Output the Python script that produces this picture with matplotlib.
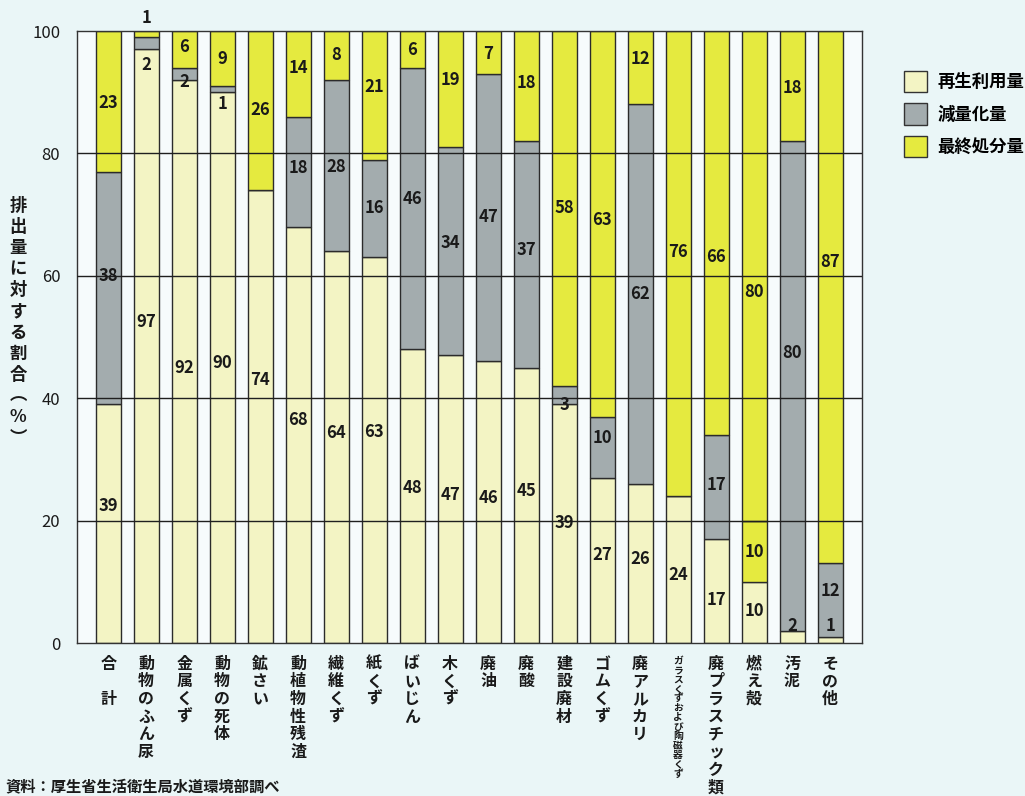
import matplotlib
matplotlib.use("Agg")
import matplotlib.pyplot as plt
from matplotlib.patches import Patch

plt.rcParams['font.family'] = ['Noto Sans CJK JP', 'DejaVu Sans']

# --- data -----------------------------------------------------------------
categories = ["合計", "動物のふん尿", "金属くず", "動物の死体", "鉱さい", "動植物性残渣",
              "繊維くず", "紙くず", "ばいじん", "木くず", "廃油", "廃酸", "建設廃材",
              "ゴムくず", "廃アルカリ", "ガラスくずおよび陶磁器くず", "廃プラスチック類",
              "燃え殻", "汚泥", "その他"]
recycled = [39, 97, 92, 90, 74, 68, 64, 63, 48, 47, 46, 45, 39, 27, 26, 24, 17, 10, 2, 1]
reduced = [38, 2, 2, 1, 0, 18, 28, 16, 46, 34, 47, 37, 3, 10, 62, 0, 17, 10, 80, 12]
final = [23, 1, 6, 9, 26, 14, 8, 21, 6, 19, 7, 18, 58, 63, 12, 76, 66, 80, 18, 87]
series_names = ["再生利用量", "減量化量", "最終処分量"]
yticks = [0, 20, 40, 60, 80, 100]

# label heights (data units) for the printed figures on each segment
recycled_label_y = [22.4, 52.5, 44.9, 45.7, 43.0, 36.4, 34.3, 34.5, 25.3, 24.2, 23.7, 24.8,
                    19.6, 14.4, 13.7, 11.1, 7.0, 5.2, 2.8, 2.8]
reduced_label_y = [60.0, 94.4, 91.7, 88.1, None, 77.6, 77.8, 71.1, 72.5, 65.4, 69.6, 64.2,
                   38.9, 33.5, 57.0, None, 25.8, 14.9, 47.4, 8.5]
final_label_y = [88.2, 102.1, 97.4, 95.4, 87.1, 94.0, 96.1, 90.9, 96.9, 92.0, 96.2, 91.5,
                 71.1, 69.1, 95.4, 63.9, 63.1, 57.4, 90.7, 62.3]

# the reduction share of 燃え殻 is printed in the final-disposal colour
reduced_printed_as_final = {"燃え殻"}

# --- style ----------------------------------------------------------------
c_recycled = "#f3f4c4"
c_reduced = "#a3acae"
c_final = "#e5ea3f"
edge = "#2b2b2b"
fig_bg = "#eaf6f7"
ax_bg = "#f6fbfc"

fig = plt.figure(figsize=(10.25, 7.96), dpi=100, facecolor=fig_bg)
ax = fig.add_axes([77 / 1025, 1 - 643 / 796, (862 - 77) / 1025, (643 - 31) / 796])
ax.set_facecolor(ax_bg)

x = list(range(len(categories)))
width = 0.66
bottom_reduced = recycled
bottom_final = [r + d for r, d in zip(recycled, reduced)]
reduced_colors = [c_final if c in reduced_printed_as_final else c_reduced for c in categories]

ax.bar(x, recycled, width=width, color=c_recycled, edgecolor=edge, linewidth=1.0, zorder=2)
ax.bar(x, reduced, width=width, bottom=bottom_reduced, color=reduced_colors,
       edgecolor=edge, linewidth=1.0, zorder=2)
ax.bar(x, final, width=width, bottom=bottom_final, color=c_final, edgecolor=edge,
       linewidth=1.0, zorder=2)

for yv in yticks[1:-1]:
    ax.axhline(yv, color="#1f1f1f", linewidth=1.0, zorder=3)

label_kw = dict(ha="center", va="center", fontsize=12, fontweight="bold",
                color="#1a1a1a", zorder=4, clip_on=False)
for i in x:
    for vals, ys in ((recycled, recycled_label_y), (reduced, reduced_label_y),
                     (final, final_label_y)):
        if vals[i] > 0 and ys[i] is not None:
            ax.text(i, ys[i], str(vals[i]), **label_kw)

ax.set_xlim(-0.82, len(categories) - 1 + 0.84)
ax.set_ylim(0, 100)
ax.set_yticks(yticks)
ax.set_yticklabels([str(v) for v in yticks], fontsize=12, color="#1a1a1a")
ax.tick_params(axis="y", length=0, pad=12)

vertical = ["合\n\u3000\n計" if c == "合計" else "\n".join(c) for c in categories]
ax.set_xticks(x)
ax.set_xticklabels(vertical, fontsize=11.5, fontweight="bold", color="#1a1a1a",
                   va="top", linespacing=1.13)
ax.tick_params(axis="x", length=0, pad=9)
glass = ax.get_xticklabels()[categories.index("ガラスくずおよび陶磁器くず")]
glass.set_fontsize(7)
glass.set_linespacing(0.93)

for s in ax.spines.values():
    s.set_color("#333333")
    s.set_linewidth(1.0)

# vertical axis title
fig.text(18 / 1025, 1 - 322 / 796, "\n".join("排出量に対する割合") + "\n︵\n%\n︶",
         ha="center", va="center", fontsize=12.5, fontweight="bold", color="#1a1a1a",
         linespacing=1.22)

handles = [Patch(facecolor=c, edgecolor="#333333", linewidth=1.0)
           for c in (c_recycled, c_reduced, c_final)]
fig.legend(handles, series_names, loc="upper left", bbox_to_anchor=(888 / 1025, 1 - 55 / 796),
           frameon=False, handlelength=1.35, handleheight=1.55,
           labelspacing=0.62, handletextpad=0.6,
           prop={"weight": "bold", "size": 12.5})

fig.text(5 / 1025, 1 - 786 / 796, "資料：厚生省生活衛生局水道環境部調べ", ha="left", va="center",
         fontsize=11, fontweight="bold", color="#1a1a1a")

fig.savefig("out.png", dpi=100, facecolor=fig_bg)
